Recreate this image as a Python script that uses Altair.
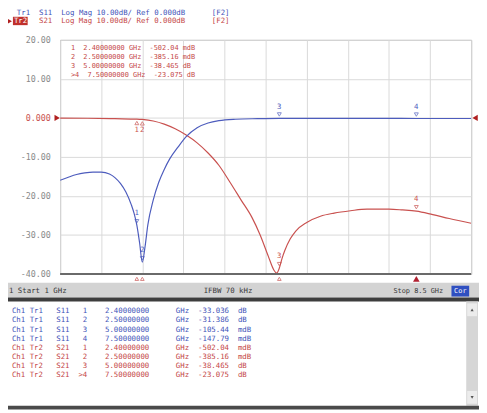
import altair as alt
import pandas as pd

# ---------------- data ----------------
s11_freq = [1.00, 1.15, 1.30, 1.45, 1.60, 1.75, 1.90, 2.00, 2.10, 2.20, 2.30, 2.35, 2.40, 2.45,
            2.50, 2.55, 2.60, 2.70, 2.80, 2.90, 3.00, 3.15, 3.30, 3.50, 3.70, 3.90, 4.20, 4.60,
            5.00, 6.00, 7.00, 7.50, 8.00, 8.50]
s11_db = [-16.0, -15.2, -14.5, -14.1, -13.9, -13.9, -14.4, -15.3, -16.8, -19.0, -22.3, -24.5,
          -27.5, -32.0, -37.0, -33.0, -27.5, -21.0, -16.5, -13.2, -10.5, -7.5, -4.8, -2.5, -1.3,
          -0.7, -0.35, -0.2, -0.12, -0.1, -0.12, -0.15, -0.15, -0.15]

s21_freq = [1.00, 1.50, 2.00, 2.40, 2.50, 2.70, 2.90, 3.10, 3.30, 3.50, 3.70, 3.90, 4.10, 4.30,
            4.50, 4.65, 4.80, 4.90, 4.95, 5.00, 5.05, 5.10, 5.20, 5.30, 5.50, 5.75, 6.00, 6.30,
            6.60, 7.00, 7.25, 7.50, 7.80, 8.10, 8.50]
s21_db = [-0.05, -0.08, -0.2, -0.3, -0.39, -0.8, -1.6, -2.8, -4.4, -6.4, -9.0, -12.2, -16.5,
          -21.0, -25.5, -30.0, -35.5, -39.0, -39.8, -38.5, -36.0, -34.0, -31.0, -29.0, -26.8,
          -25.2, -24.4, -23.8, -23.4, -23.4, -23.6, -23.9, -24.8, -25.8, -27.0]

marker_freq = [2.4, 2.5, 5.0, 7.5]
marker_num = ["1", "2", "3", "4"]
s11_marker_db = [-27.5, -37.0, -0.12, -0.15]
s21_marker_db = [-0.3, -0.39, -38.5, -23.9]

y_ticks = [20, 10, 0, -10, -20, -30, -40]
x_grid = [1.0, 1.75, 2.5, 3.25, 4.0, 4.75, 5.5, 6.25, 7.0, 7.75, 8.5]

header_tr1 = "Tr1  S11  Log Mag 10.00dB/ Ref 0.000dB      [F2]"
header_tr2_name = "Tr2"
header_tr2 = "S21  Log Mag 10.00dB/ Ref 0.000dB      [F2]"

mk_num = [" 1", " 2", " 3", ">4"]
mk_freq = ["2.40000000", "2.50000000", "5.00000000", "7.50000000"]
s21_val = ["-502.04", "-385.16", "-38.465", "-23.075"]
s21_unit = ["mdB", "mdB", "dB", "dB"]
s11_val = ["-33.036", "-31.386", "-105.44", "-147.79"]
s11_unit = ["dB", "dB", "mdB", "mdB"]

status_left = "1 Start 1 GHz"
status_mid = "IFBW 70 kHz"
status_right = "Stop 8.5 GHz"
status_box = "Cor"

# ---------------- layout / style ----------------
MONO = "DejaVu Sans Mono"
L, T, W, H = 61, 37, 418, 238
BLUE = "#4d5cbd"
RED = "#c9514f"
BLUE_TXT = "#4253b8"
RED_TXT = "#c44646"
GRID = "#d9d9d9"

dummy = pd.DataFrame({"k": [0]})


def nb(s):
    return s.replace(" ", "\u00a0")


def px(x):
    return x - L


def py(y):
    return y - T


def box(x0, y0, x1, y1, fill):
    return alt.Chart(dummy).mark_rect(color=fill).encode(
        x=alt.value(px(x0)), x2=alt.value(px(x1)),
        y=alt.value(py(y0)), y2=alt.value(py(y1)))


def label(lines, x, y_top, color, size=7.5, lh=9.3, align="left"):
    s = "\n".join(nb(l) for l in lines)
    return alt.Chart(pd.DataFrame({"t": [s]})).mark_text(
        align=align, baseline="top", font=MONO, fontSize=size, color=color,
        lineBreak="\n", lineHeight=lh).encode(
        x=alt.value(px(x)), y=alt.value(py(y_top)), text="t:N")


xenc = alt.X("f:Q", scale=alt.Scale(domain=[1, 8.5], nice=False, zero=False),
             axis=alt.Axis(values=x_grid, grid=True, gridColor=GRID, labels=False,
                           ticks=False, domain=False, title=None))
yenc = alt.Y("db:Q", scale=alt.Scale(domain=[-40, 20], nice=False, zero=False),
             axis=alt.Axis(values=y_ticks, grid=True, gridColor=GRID, ticks=False, tickSize=0,
                           domain=False, title=None, labelPadding=10, labelFont=MONO,
                           labelFontSize=8.5,
                           labelColor={"condition": {"test": "datum.value == 0", "value": RED},
                                       "value": "#8a8a8a"},
                           labelExpr="datum.value == 0 ? '0.000' : (datum.value < 0 ? '-' + format(-datum.value, '.2f') : format(datum.value, '.2f'))"))

s11 = pd.DataFrame({"f": s11_freq, "db": s11_db})
s21 = pd.DataFrame({"f": s21_freq, "db": s21_db})
mk11 = pd.DataFrame({"f": marker_freq, "db": s11_marker_db, "n": marker_num})
mk21 = pd.DataFrame({"f": marker_freq, "db": s21_marker_db, "n": marker_num})
ref = pd.DataFrame({"db": [0]})

layers = []

# header
layers.append(alt.Chart(dummy).mark_rule(color="#b5b5b5").encode(
    x=alt.value(px(0)), x2=alt.value(px(484)), y=alt.value(py(4))))
layers.append(label([header_tr1], 17, 6, BLUE_TXT))
layers.append(box(13, 13.5, 28, 22, "#c0302c"))
layers.append(label([header_tr2_name], 14, 14, "white"))
layers.append(label([header_tr2], 39.5, 14, RED_TXT))
layers.append(alt.Chart(dummy).mark_point(shape="triangle-right", filled=True, size=22,
                                          color="#b02020", opacity=1).encode(
    x=alt.value(px(10)), y=alt.value(py(18))))

# traces
layers.append(alt.Chart(s21).mark_line(color=RED, strokeWidth=1.2, interpolate="monotone",
                                       clip=True).encode(x=xenc, y=yenc))
layers.append(alt.Chart(s11).mark_line(color=BLUE, strokeWidth=1.2, interpolate="monotone",
                                       clip=True).encode(x=xenc, y=yenc))

# bottom border emphasis
layers.append(alt.Chart(dummy).mark_rule(color="#6a6a6a", strokeWidth=2).encode(
    x=alt.value(0), x2=alt.value(W), y=alt.value(H)))

# reference level triangles
layers.append(alt.Chart(ref).mark_point(shape="triangle-right", filled=True, size=40,
                                        color="#b02020", opacity=1).encode(
    x=alt.value(-3), y=yenc))
layers.append(alt.Chart(ref).mark_point(shape="triangle-left", filled=True, size=40,
                                        color="#b02020", opacity=1).encode(
    x=alt.value(W + 4), y=yenc))

# markers on S11
layers.append(alt.Chart(mk11).mark_point(shape="triangle-down", filled=False, size=16,
                                         color=BLUE, yOffset=-4, strokeWidth=1).encode(x=xenc, y=yenc))
layers.append(alt.Chart(mk11).mark_text(dy=-12, font=MONO, fontSize=7.5, color=BLUE).encode(
    x=xenc, y=yenc, text="n:N"))

# markers on S21
mk21_low = mk21[mk21["db"] > -1]
mk21_high = mk21[mk21["db"] <= -1]
layers.append(alt.Chart(mk21_low).mark_point(shape="triangle-up", filled=False, size=16,
                                             color=RED, yOffset=4, strokeWidth=1).encode(x=xenc, y=yenc))
layers.append(alt.Chart(mk21_low).mark_text(dy=11, font=MONO, fontSize=7.5, color=RED).encode(
    x=xenc, y=yenc, text="n:N"))
layers.append(alt.Chart(mk21_high).mark_point(shape="triangle-down", filled=False, size=16,
                                              color=RED, yOffset=-4, strokeWidth=1).encode(x=xenc, y=yenc))
layers.append(alt.Chart(mk21_high).mark_text(dy=-12, font=MONO, fontSize=7.5, color=RED).encode(
    x=xenc, y=yenc, text="n:N"))

# stimulus markers below the graticule
stim = pd.DataFrame({"f": marker_freq, "n": marker_num})
layers.append(alt.Chart(stim[stim["n"] != "4"]).mark_point(
    shape="triangle-up", filled=False, size=14, color=RED, strokeWidth=1).encode(
    x=xenc, y=alt.value(H + 5)))
layers.append(alt.Chart(stim[stim["n"] == "4"]).mark_point(
    shape="triangle-up", filled=True, size=45, color="#b02030", opacity=1).encode(
    x=xenc, y=alt.value(H + 5)))

# marker table in the graticule (active trace)
upper_rows = [f"{n:>2}  {f} GHz  {v:>7} {u}" for n, f, v, u in zip(mk_num, mk_freq, s21_val, s21_unit)]
layers.append(label(upper_rows, 72, 41, RED_TXT, size=7, lh=9.3))

# status bar
layers.append(box(0, 284, 487, 299, "#d3d3d3"))
layers.append(box(0, 299, 487, 303, "#3d3d3d"))
layers.append(label([status_left], 9, 288, "#3a3a3a"))
layers.append(label([status_mid], 207, 288, "#3a3a3a"))
layers.append(label([status_right], 400, 288, "#3a3a3a", size=7))
layers.append(box(459, 287, 477, 298, "#2f4fc0"))
layers.append(label([status_box], 468, 288.5, "white", size=7, align="center"))

# lower marker list
blue_rows = [f"Ch1 Tr1   S11  {n:>2}    {f}      GHz  {v:>7}  {u}"
             for n, f, v, u in zip(mk_num[:3] + [" 4"], mk_freq, s11_val, s11_unit)]
red_rows = [f"Ch1 Tr2   S21  {n:>2}    {f}      GHz  {v:>7}  {u}"
            for n, f, v, u in zip(mk_num, mk_freq, s21_val, s21_unit)]
layers.append(label(blue_rows, 12, 309, BLUE_TXT))
layers.append(label(red_rows, 12, 346.2, RED_TXT))

# scrollbar
layers.append(box(474, 303, 486, 409, "#d6d6d6"))
layers.append(box(475, 305, 485, 318, "#ececec"))
layers.append(box(475, 394, 485, 407, "#ececec"))
layers.append(alt.Chart(dummy).mark_point(shape="triangle-up", filled=True, size=10,
                                          color="#555", opacity=1).encode(
    x=alt.value(px(480)), y=alt.value(py(311.5))))
layers.append(alt.Chart(dummy).mark_point(shape="triangle-down", filled=True, size=10,
                                          color="#555", opacity=1).encode(
    x=alt.value(px(480)), y=alt.value(py(400.5))))
layers.append(box(0, 409, 487, 413, "#4a4a4a"))

chart = alt.layer(*layers).properties(
    width=W, height=H,
    padding={"left": 53, "top": 29, "right": 8, "bottom": 138},
    autosize=alt.AutoSizeParams(type="none"),
    background="white",
).configure_view(stroke="#9a9a9a", strokeWidth=1)

chart.save("out.html", embed_options={"renderer": "svg", "actions": False})
